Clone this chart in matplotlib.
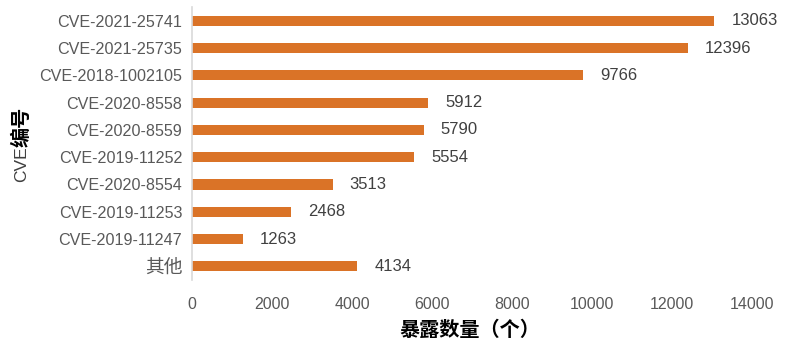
import matplotlib.pyplot as plt

# CVE ids (top to bottom) and exposure counts
cves = ['CVE-2021-25741', 'CVE-2021-25735', 'CVE-2018-1002105', 'CVE-2020-8558',
        'CVE-2020-8559', 'CVE-2019-11252', 'CVE-2020-8554', 'CVE-2019-11253',
        'CVE-2019-11247', '其他']
counts = [13063, 12396, 9766, 5912, 5790, 5554, 3513, 2468, 1263, 4134]
xticks = [0, 2000, 4000, 6000, 8000, 10000, 12000, 14000]

plt.rcParams['font.family'] = ['Liberation Sans', 'Noto Sans CJK SC', 'DejaVu Sans']

fig = plt.figure(figsize=(8.12, 3.56), dpi=100)
ax = fig.add_axes([0.2365, 0.2135, 0.6895, 0.7665])

ypos = list(range(len(cves)))
ax.barh(ypos, counts, height=0.37, color='#DA7327')

# value labels next to each bar
for y, v in zip(ypos, counts):
    ax.text(v + 430, y, str(v), va='center', ha='left', fontsize=12, color='#404040')

ax.set_ylim(len(cves) - 0.5, -0.5)
ax.set_yticks(ypos)
ax.set_yticklabels(cves, fontsize=11.6, color='#595959')
ax.get_yticklabels()[-1].set_fontsize(13.5)
ax.get_yticklabels()[-1].set_fontweight('light')
ax.set_xlim(0, 14000)
ax.set_xticks(xticks)
ax.set_xticklabels([str(t) for t in xticks], fontsize=11.5, color='#595959')
ax.tick_params(axis='both', length=0)
ax.tick_params(axis='x', pad=12)
ax.tick_params(axis='y', pad=7)

for s in ['top', 'right', 'bottom']:
    ax.spines[s].set_visible(False)
ax.spines['left'].set_color('#D9D9D9')
ax.spines['left'].set_linewidth(1.2)

# axis titles
fig.text(0.579, 1 - 330 / 356, '暴露数量（个）', ha='center', va='center',
         fontsize=14.5, fontweight='bold', color='black')
fig.text(22 / 812, 1 - 164 / 356, 'CVE', rotation=90, ha='center', va='center',
         fontsize=12.5, color='#404040')
fig.text(22 / 812, 1 - 127 / 356, '编号', rotation=90, ha='center', va='center',
         fontsize=14.5, fontweight='bold', color='black')

plt.savefig('out.png', dpi=100)
